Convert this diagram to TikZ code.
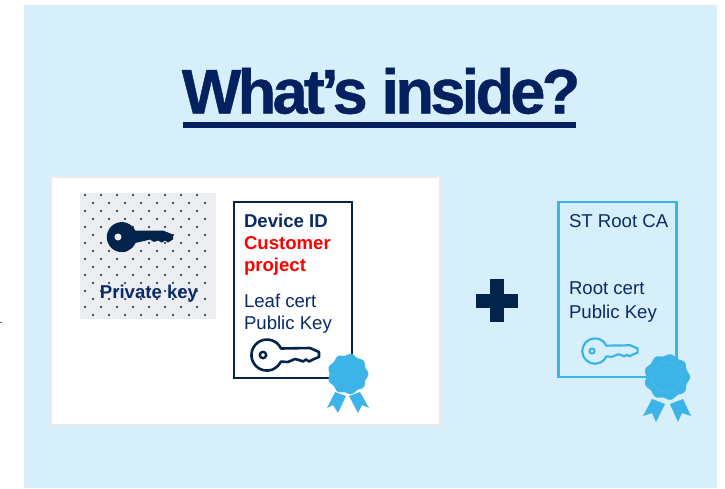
\documentclass[tikz,border=0pt]{standalone}
\usepackage{fontspec}
\setmainfont{Liberation Sans}
\newfontfamily\titlefont[LetterSpace=-5.8,BoldFeatures={FakeBold=0.7}]{Liberation Sans}
\definecolor{bgblue}{HTML}{D6EFFA}
\definecolor{navy}{HTML}{03234B}
\definecolor{titlenavy}{HTML}{03205F}
\definecolor{textnavy}{HTML}{0B2A66}
\definecolor{skyblue}{HTML}{3DB4E8}
\definecolor{dotbg}{HTML}{EDEEF2}
\definecolor{certred}{HTML}{FF0000}
\tikzset{
  certbox/.style={draw=#1,line width=2.5pt,fill=none,outer sep=0pt,inner sep=0pt},
  lbl/.style={anchor=base west,inner sep=0pt,outer sep=0pt,font=\fontsize{18.6}{22}\selectfont},
  keyshape/.pic={
    \path[pic actions]
      (13.5,-6) arc[start angle=-24,end angle=-336,radius=15] -- cycle;
    \path[pic actions]
      (13,-6.5) -- (41,-6.5) -- (51,-2.5) -- (51,2.5) -- (46,5.5) -- (43,3.5) -- (40,5.5) -- (36,3.5) -- (32,5) -- (28,2.5) -- (22,4) -- (13,6) -- cycle;
  },
  outlinekey/.pic={
    \draw[pic actions,line join=round]
      (14,-6.5) arc[start angle=-25,end angle=-335,radius=15.5]
      -- (21,7) -- (28,4) -- (32,5) -- (36,6.5) -- (39,4.5) -- (42,6.5) -- (47,4) -- (52,2) -- (52,-3) -- (43,-7) -- cycle;
  }
}
\newcommand{\badge}[4]{% x y R colour
  \fill[#4] plot[smooth cycle,samples=72,domain=0:355] ({#1+#3*(1+0.05*cos(9*\x))*cos(\x)},{#2+#3*(1+0.05*cos(9*\x))*sin(\x)});
}
\begin{document}
\begin{tikzpicture}[x=1pt,y=-1pt]
\useasboundingbox (0,0) rectangle (725,488);
\fill[white] (0,0) rectangle (725,488);
\fill[bgblue] (24,5) rectangle (717,488);
\fill[navy!70] (0,321.5) rectangle (2,323);
% title
\node[anchor=base,inner sep=0pt,text=titlenavy] (title) at (381,113.5) {\titlefont\bfseries\fontsize{63}{70}\selectfont What’s inside?};
\coordinate (ulL) at (183,124.5);
\coordinate (ulR) at (576,124.5);
\draw[titlenavy,line width=6pt] (ulL) -- (ulR);
% white panel
\fill[white,draw=white!92!black,line width=1.2pt] (51,177) rectangle (440,425);
% dotted panel
\fill[dotbg] (80,193) rectangle (216,319);
\foreach \r in {0,...,15}{
  \pgfmathsetmacro{\yy}{195+8*\r}
  \pgfmathsetmacro{\xo}{mod(\r,2)==0 ? 85 : 93}
  \foreach \c in {0,...,7}{
    \pgfmathsetmacro{\xx}{\xo+16*\c}
    \ifdim \xx pt<215pt \fill[navy] (\xx,\yy) circle (1.1pt);\fi
  }
}
\pic[fill=navy] at (122,237) {keyshape};
\fill[dotbg] (118,237) circle (3.5);
\node[lbl,anchor=base,text=textnavy,font=\bfseries\fontsize{18.6}{22}\selectfont] (pk) at (149,298) {Private key};
% leaf certificate
\node[certbox=navy,minimum width=118pt,minimum height=176pt,anchor=north west] (leaf) at (234,202) {};
\node[lbl,text=textnavy,font=\bfseries\fontsize{18.6}{22}\selectfont] (devid) at (244,227) {Device ID};
\node[lbl,text=certred,font=\bfseries\fontsize{18.6}{22}\selectfont] (cust1) at (244,249) {Customer};
\node[lbl,text=certred,font=\bfseries\fontsize{18.6}{22}\selectfont] (cust2) at (244,271) {project};
\node[lbl,text=textnavy] (leaf1) at (244,307) {Leaf cert};
\node[lbl,text=textnavy] (leaf2) at (244,329) {Public Key};
\pic[draw=navy,line width=2.6pt] at (267,355) {outlinekey};
\draw[navy,line width=2.4pt] (263,355) circle (3.2);
\badge{348}{374}{19.5}{skyblue}
\fill[skyblue] (335,392) -- (346,396) -- (338,413) -- (333,405) -- (327,408) -- cycle;
\fill[skyblue] (349,396) -- (360,392) -- (369,408) -- (362,405) -- (358,413) -- cycle;
% plus
\fill[navy] (490,279) rectangle (504,322);
\fill[navy] (476,293.5) rectangle (518,307.5);
% root certificate
\node[certbox=skyblue,minimum width=118pt,minimum height=175pt,anchor=north west] (root) at (558.5,202) {};
\node[lbl,text=textnavy] (st) at (569,227) {ST Root CA};
\node[lbl,text=textnavy] (root1) at (569,294) {Root cert};
\node[lbl,text=textnavy] (root2) at (569,318) {Public Key};
\pic[draw=skyblue,line width=2.2pt,scale=0.82] at (595,351) {outlinekey};
\draw[skyblue,line width=2pt] (592,351) circle (2.6);
\badge{667}{377}{22}{skyblue}
\draw[skyblue!85!white,line width=0.3pt] (667,377) circle (15);
\fill[skyblue] (652,399) -- (665,404) -- (656,422) -- (652,413) -- (643,416) -- cycle;
\fill[skyblue] (670,404) -- (683,399) -- (691,416) -- (682,413) -- (678,422) -- cycle;
\end{tikzpicture}
\end{document}
